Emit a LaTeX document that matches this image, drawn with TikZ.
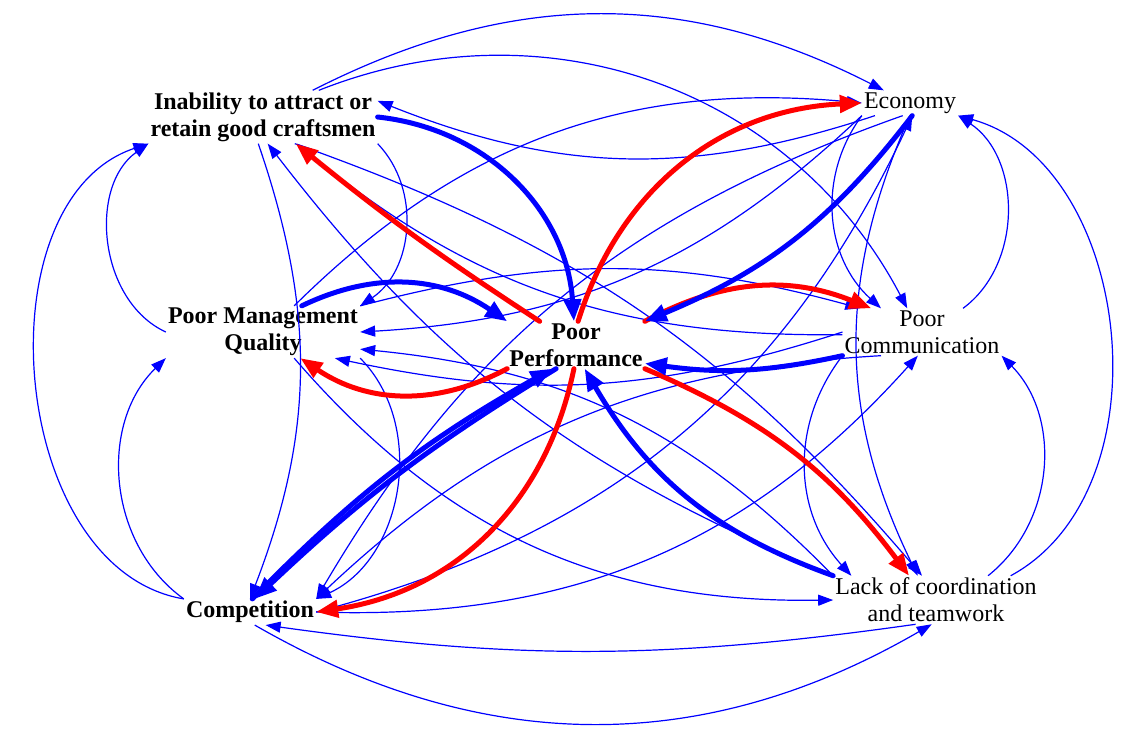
\documentclass[tikz,border=0pt]{standalone}
\usepackage{fontspec}
\setmainfont{Liberation Serif}
\usetikzlibrary{arrows.meta}
\begin{document}
\begin{tikzpicture}[x=1pt,y=-1pt,
  lblb/.style={align=center,font=\fontsize{24}{27}\selectfont\bfseries,inner sep=2pt},
  lblr/.style={align=center,font=\fontsize{24}{27}\selectfont,inner sep=2pt},
  lnk/.style={draw=blue,line width=1.2pt,-{Triangle[length=15pt,width=11pt]}},
  tkb/.style={draw=blue,line width=5pt,line cap=round,-{Triangle[length=22pt,width=17pt]}},
  tkr/.style={draw=red,line width=5pt,line cap=round,-{Triangle[length=22pt,width=17pt]}},
]
\useasboundingbox (0,0) rectangle (1123,738);
\node[lblb] (I) at (263,117) {Inability to attract or\\retain good craftsmen};
\node[lblr] (E) at (910,103) {Economy};
\node[lblb] (M) at (263,332) {Poor Management\\Quality};
\node[lblb] (P) at (576,345) {Poor\\Performance};
\node[lblr] (C) at (922,332) {Poor\\Communication};
\node[lblb] (K) at (250,612) {Competition};
\node[lblr] (L) at (936,600) {Lack of coordination\\and teamwork};

% thin links
\draw[lnk] (I) to[bend left=27] (E);
\draw[lnk] (I) to[bend left=42] (C.122);
\draw[lnk] (E) to[bend left=20] (I.8);
\draw[lnk] (C) to[bend left=20] (I);
\draw[lnk] (M.west) to[bend left=60] (I.south west);
\draw[lnk] (K.north west) to[bend left=76] (I.south west);
\draw[lnk] (I.south east) to[bend left=50] (M.north east);
\draw[lnk] (I.-100) to[bend left=20] (K.north);
\draw[lnk] (L.north west) to[bend left=15] (I.-80);
\draw[lnk] (I.-40) to[bend left=15] (L.120);
\draw[lnk] (M.north east) to[bend left=15] (C.159);
\draw[lnk] (C.west) to[bend left=15] (M.-20);
\draw[lnk] (M.40) to[bend left=25] (E.west);
\draw[lnk] (E.south west) to[bend left=20] (M.east);
\draw[lnk] (M.-40) to[bend right=25] (L.west);
\draw[lnk] (L.north west) to[bend right=20] (M.-10);
\draw[lnk] (K.east) to[bend right=25] (E.-80);
\draw[lnk] (E.-120) to[bend right=20] (K.north east);
\draw[lnk] (K.east) to[bend right=25] (C.-100);
\draw[lnk] (C.-150) to[bend right=20] (K.north east);
\draw[lnk] (K.-70) to[bend right=30] (L.-100);
\draw[lnk] (L.-130) to[bend left=8] (K.-40);
\draw[lnk] (K.north west) to[bend left=50] (M.south west);
\draw[lnk] (M.south east) to[bend left=55] (K.north east);
\draw[lnk] (E.south west) to[bend right=42] (C.150);
\draw[lnk] (C.30) to[bend right=55] (E.south east);
\draw[lnk] (L.18) to[bend right=68] (E.south east);
\draw[lnk] (L.25) to[bend right=48] (C.south east);
\draw[lnk] (C.south west) to[bend right=40] (L.164);
\draw[lnk] (E.-90) to[bend right=25] (L.127);

% thick links
\draw[tkr] (P) to[bend left=3] (I);
\draw[tkr] (P.85) to[bend left=35] (E.west);
\draw[tkr] (P.north east) to[bend left=25] (C.155);
\draw[tkr] (P.south east) to[bend left=15] (L.138);
\draw[tkr] (P.-95) to[bend left=35] (K.east);
\draw[tkr] (P.south west) to[bend left=31] (M.-35);

\draw[tkb] (I.east) to[bend left=40] (P.95);
\draw[tkb] (E.-80) to[bend left=15] (P.north east);
\draw[tkb] (C.south west) to[bend left=10] (P.-15);
\draw[tkb] (L.north west) to[bend left=20] (P.-70);
\draw[tkb] (M.34) to[bend left=30] (P.north west);
\draw[tkb] (K.80) to[bend left=8] (P.-135);
\draw[tkb] (P.-130) to[bend right=6] (K.70);
\end{tikzpicture}
\end{document}
